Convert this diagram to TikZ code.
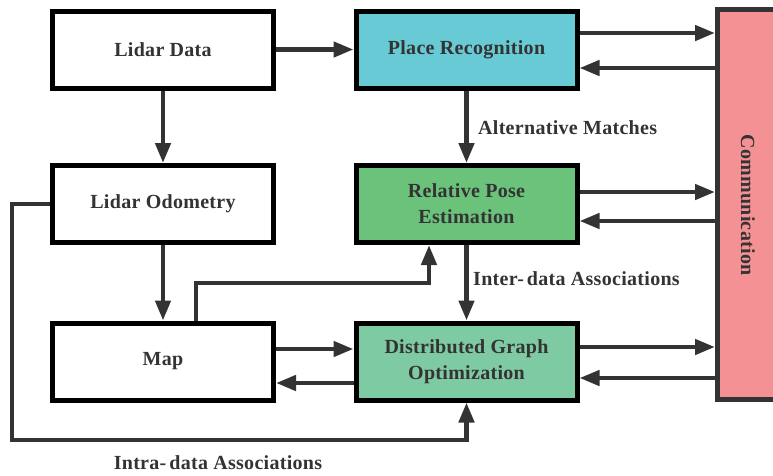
\documentclass[tikz,border=0pt]{standalone}
\usepackage{fontspec}
\setmainfont[LetterSpace=1.5]{Liberation Serif}
\usetikzlibrary{arrows.meta}
\definecolor{pr}{HTML}{68CAD4}
\definecolor{rpe}{HTML}{6BC27B}
\definecolor{dgo}{HTML}{7ECAA2}
\definecolor{comm}{HTML}{F49194}
\definecolor{ln}{HTML}{333333}
\begin{document}
\begin{tikzpicture}[x=1pt,y=-1pt,
  box/.style={draw=black,line width=5pt,minimum width=221pt,minimum height=77pt,inner sep=0pt,
    align=center,text=ln,font=\fontsize{20}{26}\selectfont\bfseries},
  arr/.style={draw=ln,line width=4.5pt,-{Triangle[length=20pt,width=15pt]}},
  lbl/.style={text=ln,font=\fontsize{20}{26}\selectfont\bfseries,inner sep=0pt}]
\useasboundingbox (0,0) rectangle (773,475);
\clip (0,0) rectangle (773,475);
\node[box,fill=white] (ld) at (163,49.5) {Lidar Data};
\node[box,fill=pr] (pr) at (466.5,49.5) {Place Recognition};
\node[box,fill=white] (lo) at (163,204) {Lidar Odometry};
\node[box,fill=rpe] (rpe) at (466.5,204) {Relative Pose\\Estimation};
\node[box,fill=white] (map) at (163,361.5) {Map};
\node[box,fill=dgo] (dgo) at (466.5,361.5) {Distributed Graph\\Optimization};
\node[draw=ln,line width=5pt,fill=comm,minimum width=80pt,minimum height=390pt,inner sep=0pt] (comm) at (757.5,204.5) {};
\node[lbl,rotate=-90] (commtxt) at (748,205) {Communication};
\draw[arr] (ld.east) -- (pr.west);
\draw[arr] (ld.south) -- (lo.north);
\draw[arr] (lo.south) -- (map.north);
\draw[arr] (pr.south) -- (rpe.north);
\draw[arr] (rpe.south) -- (dgo.north);
\draw[arr] (pr.east |- 0,33) -- (comm.west |- 0,33);
\draw[arr] (comm.west |- 0,68) -- (pr.east |- 0,68);
\draw[arr] (rpe.east |- 0,192) -- (comm.west |- 0,192);
\draw[arr] (comm.west |- 0,221) -- (rpe.east |- 0,221);
\draw[arr] (dgo.east |- 0,347) -- (comm.west |- 0,347);
\draw[arr] (comm.west |- 0,378) -- (dgo.east |- 0,378);
\draw[arr] (map.east |- 0,349) -- (dgo.west |- 0,349);
\draw[arr] (dgo.west |- 0,383) -- (map.east |- 0,383);
\coordinate (m1) at (196,283);
\draw[arr] (map.north -| m1) -- (m1) -| ([xshift=-37.5pt]rpe.south);
\coordinate (l1) at (12,440);
\draw[arr] (lo.west) -| (l1) -| (dgo.south);
\node[lbl,anchor=west] (am) at (478,128) {Alternative Matches};
\node[lbl,anchor=west] (ia) at (473,279) {Inter-\kern3pt data Associations};
\node[lbl] (intra) at (218,463) {Intra-\kern3pt data Associations};
\end{tikzpicture}
\end{document}
